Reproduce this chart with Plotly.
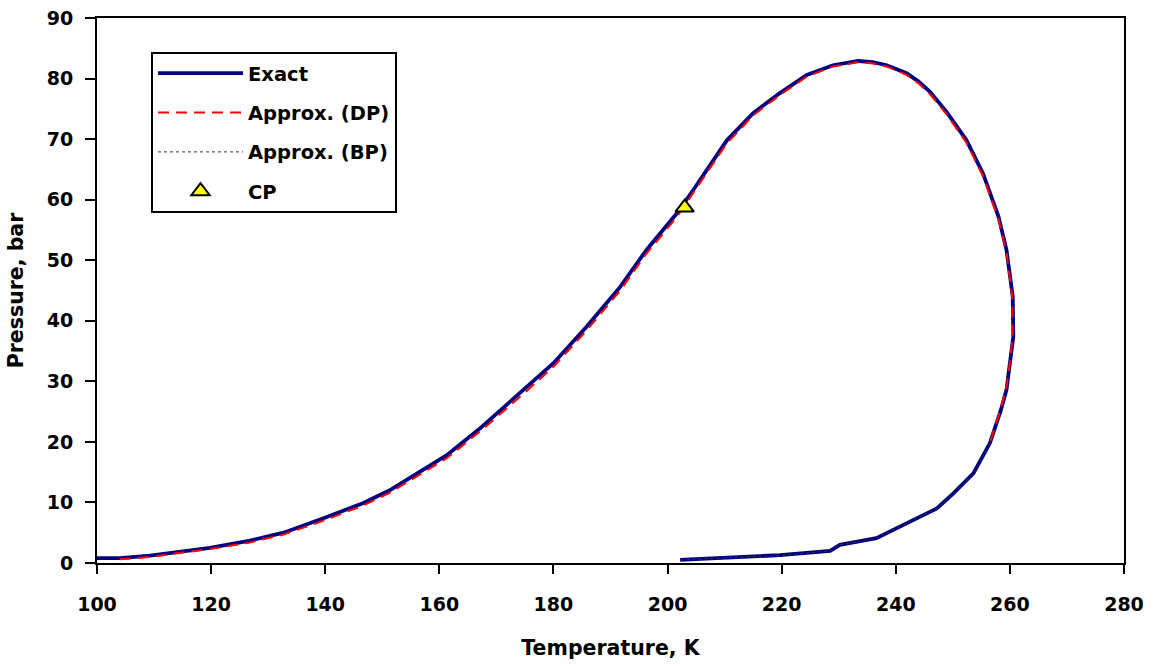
import plotly.graph_objects as go

# ---- data ----
exact_T = [100, 104, 109.3, 114, 119.8, 126.8, 132.7, 139.7, 146.7, 151.3, 154.3, 161.3,
           167.1, 174.1, 180, 185.8, 191.7, 196.3, 201.6, 204.5, 206.3, 210.4, 215, 219.7,
           224.4, 229, 233.4, 236, 238.4, 241.9, 244, 246, 248.9, 252.4, 255.3, 258, 259.4,
           260.5, 260.6, 260, 259.4, 258.4, 256.5, 253.6, 250.1, 247.2, 243.1, 239.6, 236.6,
           230.2, 228.5, 219.7, 210.9, 202.2]
exact_P = [0.8, 0.8, 1.2, 1.8, 2.5, 3.7, 5.0, 7.4, 9.9, 12.0, 13.7, 17.8,
           22.2, 28.0, 33.0, 39.0, 45.6, 51.7, 57.7, 61.6, 64.1, 69.8, 74.3, 77.6,
           80.6, 82.2, 82.9, 82.7, 82.2, 80.9, 79.5, 77.8, 74.5, 69.8, 64.3, 57.2, 51.7,
           44.0, 37.4, 32.4, 28.6, 25.2, 19.8, 14.8, 11.5, 9.0, 7.1, 5.45, 4.1,
           3.0, 2.0, 1.3, 0.88, 0.5]

dp_T = [104, 109.3, 114, 119.8, 126.8, 132.7, 139.7, 146.7, 151.3, 154.3, 161.3, 167.1,
        174.1, 180, 185.8, 191.7, 196.3, 201.6, 204.5, 206.3, 210.4, 215, 219.7, 224.4,
        229, 233.4, 236, 238.4, 241.9, 244, 246, 248.9, 252.4, 255.3, 258, 259.4, 260.4,
        260.5, 259.9, 259.3, 258.3, 256.5]
dp_P = [0.6, 1.0, 1.6, 2.3, 3.4, 4.7, 7.0, 9.5, 11.6, 13.3, 17.3, 21.7,
        27.4, 32.4, 38.4, 45.0, 51.1, 57.1, 61.1, 63.6, 69.3, 73.9, 77.3, 80.3,
        82.0, 82.7, 82.5, 82.0, 80.6, 79.2, 77.4, 74.1, 69.4, 63.9, 56.8, 51.3, 44.0,
        37.4, 32.4, 28.6, 25.2, 19.8]

bp_T = [256.5, 253.6, 250.1, 247.2, 243.1, 239.6, 236.6, 230.2, 228.5, 219.7, 210.9, 202.2]
bp_P = [19.8, 14.8, 11.5, 9.0, 7.1, 5.45, 4.1, 3.0, 2.0, 1.3, 0.88, 0.5]

cp_T = [203.0]
cp_P = [58.7]

x_ticks = [100, 120, 140, 160, 180, 200, 220, 240, 260, 280]
y_ticks = [0, 10, 20, 30, 40, 50, 60, 70, 80, 90]

FONT = "DejaVu Sans, Arial, sans-serif"

fig = go.Figure()
fig.add_trace(go.Scatter(x=exact_T, y=exact_P, mode="lines", name="Exact",
                         legendgroup="a",
                         line=dict(color="#000080", width=3.8)))
fig.add_trace(go.Scatter(x=dp_T, y=dp_P, mode="lines", name="Approx. (DP)",
                         legendgroup="b",
                         line=dict(color="#FF0000", width=2, dash="11px,7px")))
fig.add_trace(go.Scatter(x=bp_T, y=bp_P, mode="lines", name="Approx. (BP)",
                         legendgroup="c",
                         line=dict(color="#333333", width=1, dash="dot")))
fig.add_trace(go.Scatter(x=cp_T, y=cp_P, mode="markers", name="CP",
                         legendgroup="d",
                         marker=dict(symbol="triangle-up", size=16, color="#FFFF00",
                                     line=dict(color="black", width=2))))

fig.update_layout(
    width=1158, height=666,
    margin=dict(l=97, r=34, t=18, b=103, autoexpand=False),
    paper_bgcolor="white", plot_bgcolor="white",
    font=dict(family=FONT, size=19, color="black", weight="bold"),
    showlegend=True,
    legend=dict(x=0.0526, y=0.9376, xanchor="left", yanchor="top",
                bgcolor="white", bordercolor="black", borderwidth=2,
                font=dict(family=FONT, size=19.5, color="black", weight="bold"),
                traceorder="grouped", tracegroupgap=11, itemwidth=85),
    xaxis=dict(range=[100, 280], tickvals=x_ticks, ticks="outside", ticklen=9,
               tickwidth=2, tickcolor="black", showline=True, linecolor="black",
               linewidth=2, mirror=True, showgrid=False, zeroline=False,
               automargin=False, ticklabelstandoff=14,
               tickfont=dict(family=FONT, size=19, weight="bold"),
               title=dict(text="Temperature, K", standoff=27,
                          font=dict(family=FONT, size=20.5, weight="bold"))),
    yaxis=dict(range=[0, 90], tickvals=y_ticks, ticks="outside", ticklen=10,
               tickwidth=2, tickcolor="black", showline=True, linecolor="black",
               linewidth=2, mirror=True, showgrid=False, zeroline=False,
               automargin=False, ticklabelstandoff=8,
               tickfont=dict(family=FONT, size=19, weight="bold"),
               title=dict(text="Pressure, bar", standoff=18,
                          font=dict(family=FONT, size=20.5, weight="bold"))),
)

fig.write_html("out.html",
               config={"displayModeBar": False},
               post_script="document.body.style.margin='0';"
                           "document.body.style.overflow='hidden';")
